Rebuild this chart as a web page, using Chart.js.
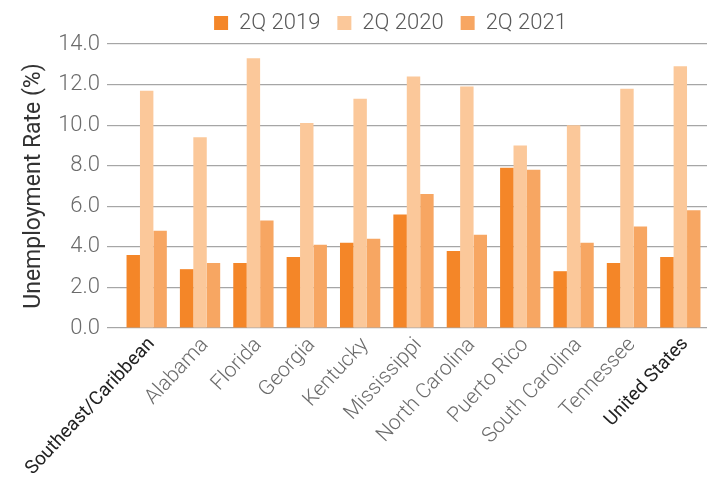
<!DOCTYPE html>
<html>
<head>
<meta charset="utf-8">
<script src="https://cdn.jsdelivr.net/npm/chart.js@4.4.0/dist/chart.umd.min.js"></script>
<style>
  html, body { margin: 0; padding: 0; background: #fff; }
  #wrap { width: 711px; height: 479px; }
</style>
</head>
<body>
<div id="wrap"><canvas id="chart1"></canvas></div>
<script>
const categories = ['Southeast/Caribbean', 'Alabama', 'Florida', 'Georgia', 'Kentucky', 'Mississippi',
    'North Carolina', 'Puerto Rico', 'South Carolina', 'Tennessee', 'United States'];
const q2_2019 = [3.6, 2.9, 3.2, 3.5, 4.2, 5.6, 3.8, 7.9, 2.8, 3.2, 3.5];
const q2_2020 = [11.7, 9.4, 13.3, 10.1, 11.3, 12.4, 11.9, 9.0, 10.0, 11.8, 12.9];
const q2_2021 = [4.8, 3.2, 5.3, 4.1, 4.4, 6.6, 4.6, 7.8, 4.2, 5.0, 5.8];
const yTicks = [0, 2, 4, 6, 8, 10, 12, 14];

// the two aggregate labels are drawn darker than the states
const highlight = ['Southeast/Caribbean', 'United States'];
const fontFamily = 'Roboto, "Liberation Sans", sans-serif';

const data = {
    labels: categories,
    datasets: [
        {
            label: '2Q 2019',
            data: q2_2019,
            backgroundColor: 'rgb(244, 134, 40)',
        },
        {
            label: '2Q 2020',
            data: q2_2020,
            backgroundColor: 'rgb(251, 200, 154)',
        },
        {
            label: '2Q 2021',
            data: q2_2021,
            backgroundColor: 'rgb(247, 166, 98)',
        }
    ]
};

// legend sits a bit right of the canvas centre in the original
const shiftLegend = {
    id: 'shiftLegend',
    afterLayout(chart) {
        chart.legend.left += 74;
    }
};

const config = {
    type: 'bar',
    data: data,
    plugins: [shiftLegend],
    options: {
        responsive: true,
        maintainAspectRatio: false,
        animation: false,
        layout: {
            padding: { left: 0, right: 4, top: -5, bottom: 0 }
        },
        datasets: {
            bar: {
                categoryPercentage: 0.755,
                barPercentage: 1.0,
            }
        },
        plugins: {
            legend: {
                position: 'top',
                labels: {
                    boxWidth: 14,
                    boxHeight: 14,
                    padding: 17,
                    color: '#595959',
                    font: { family: fontFamily, size: 22, weight: 300 }
                }
            },
            tooltip: { enabled: false }
        },
        scales: {
            x: {
                afterFit: scale => { scale.height = 151; },
                grid: { display: false },
                border: { display: false },
                ticks: {
                    minRotation: 47,
                    maxRotation: 47,
                    padding: -3,
                    labelOffset: 5,
                    color: ctx => highlight.includes(categories[ctx.index]) ? '#222222' : '#6b6b6b',
                    font: ctx => highlight.includes(categories[ctx.index])
                        ? { family: fontFamily, size: 19, weight: 400 }
                        : { family: fontFamily, size: 21, weight: 300 }
                }
            },
            y: {
                min: 0,
                max: 14,
                afterBuildTicks: scale => {
                    scale.ticks = yTicks.map(v => ({ value: v }));
                },
                afterFit: scale => { scale.width = 120; },
                grid: {
                    color: '#a6a6a6',
                    lineWidth: 1.2,
                    tickLength: 13,
                },
                border: { display: false },
                ticks: {
                    padding: 7,
                    color: '#6b6b6b',
                    font: { family: fontFamily, size: 22, weight: 300 },
                    callback: v => v.toFixed(1)
                },
                title: {
                    display: true,
                    text: 'Unemployment Rate (%)',
                    color: '#333333',
                    padding: { top: 20, bottom: 0 },
                    font: { family: fontFamily, size: 23, weight: 400 }
                }
            }
        }
    },
};

const chart1 = new Chart(document.getElementById('chart1'), config);
</script>
</body>
</html>
